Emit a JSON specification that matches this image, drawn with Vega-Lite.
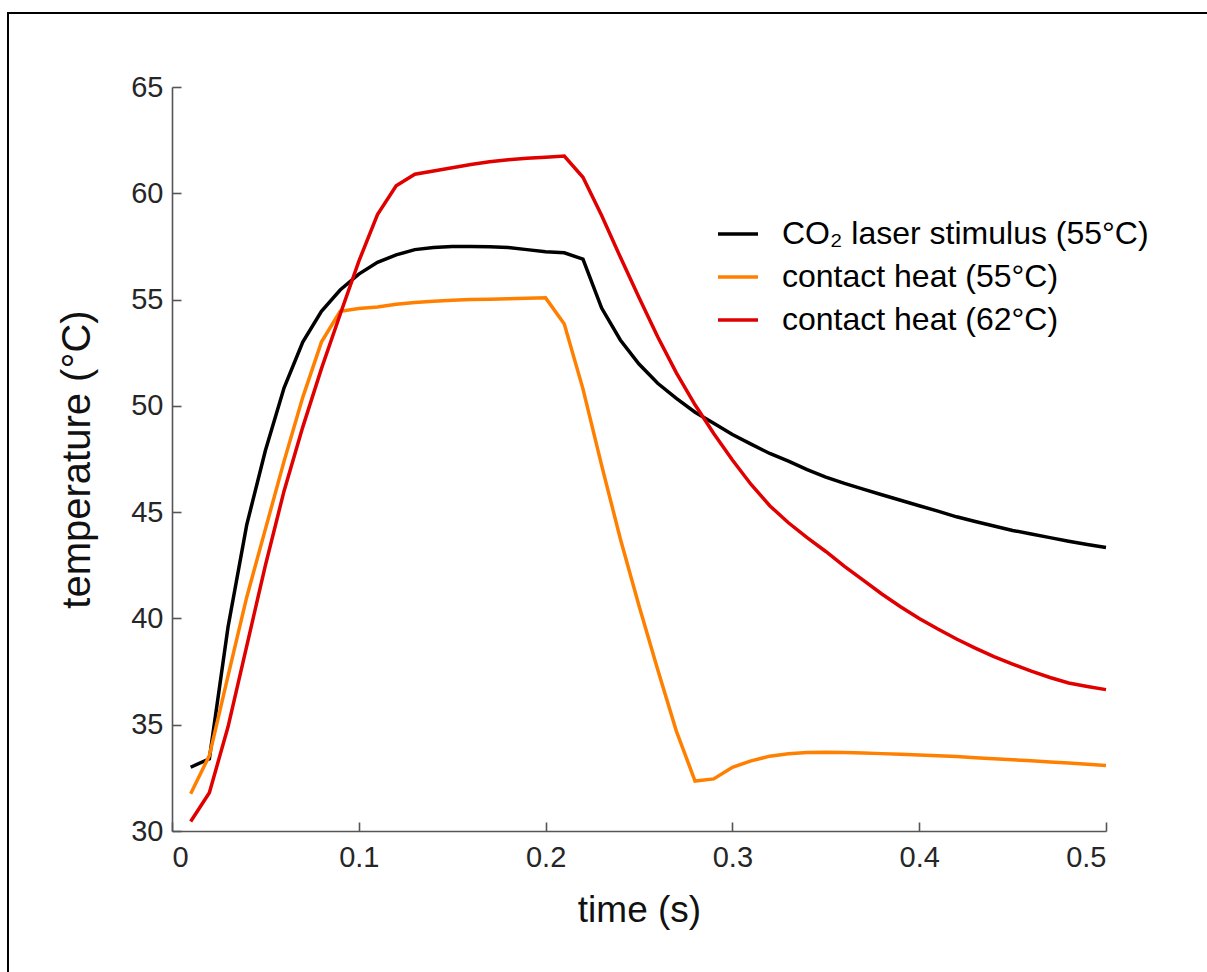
{
  "$schema": "https://vega.github.io/schema/vega-lite/v6.json",
  "width": 934,
  "height": 744,
  "autosize": {"type": "none"},
  "padding": {"left": 172, "top": 87, "right": 101, "bottom": 141},
  "background": "white",
  "config": {
    "view": {"stroke": null},
    "font": "Liberation Sans",
    "axis": {
      "grid": false,
      "domainColor": "#555555",
      "domainWidth": 1.6,
      "tickColor": "#555555",
      "tickWidth": 1.6,
      "tickSize": -9,
      "labelFontSize": 29,
      "labelColor": "#262626",
      "labelFont": "Liberation Sans",
      "titleFont": "Liberation Sans",
      "titleFontSize": 37,
      "titleFontWeight": "normal",
      "titleColor": "#111111"
    }
  },
  "datasets": {
    "series": [
      {"t": 0.01, "T": 33.0, "s": "CO₂ laser stimulus (55°C)"},
      {"t": 0.02, "T": 33.4, "s": "CO₂ laser stimulus (55°C)"},
      {"t": 0.03, "T": 39.6, "s": "CO₂ laser stimulus (55°C)"},
      {"t": 0.04, "T": 44.4, "s": "CO₂ laser stimulus (55°C)"},
      {"t": 0.05, "T": 47.9, "s": "CO₂ laser stimulus (55°C)"},
      {"t": 0.06, "T": 50.85, "s": "CO₂ laser stimulus (55°C)"},
      {"t": 0.07, "T": 53.0, "s": "CO₂ laser stimulus (55°C)"},
      {"t": 0.08, "T": 54.45, "s": "CO₂ laser stimulus (55°C)"},
      {"t": 0.09, "T": 55.45, "s": "CO₂ laser stimulus (55°C)"},
      {"t": 0.10, "T": 56.2, "s": "CO₂ laser stimulus (55°C)"},
      {"t": 0.11, "T": 56.75, "s": "CO₂ laser stimulus (55°C)"},
      {"t": 0.12, "T": 57.1, "s": "CO₂ laser stimulus (55°C)"},
      {"t": 0.13, "T": 57.35, "s": "CO₂ laser stimulus (55°C)"},
      {"t": 0.14, "T": 57.45, "s": "CO₂ laser stimulus (55°C)"},
      {"t": 0.15, "T": 57.5, "s": "CO₂ laser stimulus (55°C)"},
      {"t": 0.16, "T": 57.5, "s": "CO₂ laser stimulus (55°C)"},
      {"t": 0.17, "T": 57.48, "s": "CO₂ laser stimulus (55°C)"},
      {"t": 0.18, "T": 57.45, "s": "CO₂ laser stimulus (55°C)"},
      {"t": 0.19, "T": 57.35, "s": "CO₂ laser stimulus (55°C)"},
      {"t": 0.20, "T": 57.25, "s": "CO₂ laser stimulus (55°C)"},
      {"t": 0.21, "T": 57.2, "s": "CO₂ laser stimulus (55°C)"},
      {"t": 0.22, "T": 56.9, "s": "CO₂ laser stimulus (55°C)"},
      {"t": 0.23, "T": 54.6, "s": "CO₂ laser stimulus (55°C)"},
      {"t": 0.24, "T": 53.1, "s": "CO₂ laser stimulus (55°C)"},
      {"t": 0.25, "T": 51.97, "s": "CO₂ laser stimulus (55°C)"},
      {"t": 0.26, "T": 51.06, "s": "CO₂ laser stimulus (55°C)"},
      {"t": 0.27, "T": 50.35, "s": "CO₂ laser stimulus (55°C)"},
      {"t": 0.28, "T": 49.7, "s": "CO₂ laser stimulus (55°C)"},
      {"t": 0.29, "T": 49.18, "s": "CO₂ laser stimulus (55°C)"},
      {"t": 0.30, "T": 48.65, "s": "CO₂ laser stimulus (55°C)"},
      {"t": 0.31, "T": 48.2, "s": "CO₂ laser stimulus (55°C)"},
      {"t": 0.32, "T": 47.76, "s": "CO₂ laser stimulus (55°C)"},
      {"t": 0.33, "T": 47.4, "s": "CO₂ laser stimulus (55°C)"},
      {"t": 0.34, "T": 47.0, "s": "CO₂ laser stimulus (55°C)"},
      {"t": 0.35, "T": 46.65, "s": "CO₂ laser stimulus (55°C)"},
      {"t": 0.36, "T": 46.35, "s": "CO₂ laser stimulus (55°C)"},
      {"t": 0.37, "T": 46.08, "s": "CO₂ laser stimulus (55°C)"},
      {"t": 0.38, "T": 45.82, "s": "CO₂ laser stimulus (55°C)"},
      {"t": 0.39, "T": 45.56, "s": "CO₂ laser stimulus (55°C)"},
      {"t": 0.40, "T": 45.3, "s": "CO₂ laser stimulus (55°C)"},
      {"t": 0.41, "T": 45.05, "s": "CO₂ laser stimulus (55°C)"},
      {"t": 0.42, "T": 44.78, "s": "CO₂ laser stimulus (55°C)"},
      {"t": 0.43, "T": 44.56, "s": "CO₂ laser stimulus (55°C)"},
      {"t": 0.44, "T": 44.35, "s": "CO₂ laser stimulus (55°C)"},
      {"t": 0.45, "T": 44.14, "s": "CO₂ laser stimulus (55°C)"},
      {"t": 0.46, "T": 43.97, "s": "CO₂ laser stimulus (55°C)"},
      {"t": 0.47, "T": 43.8, "s": "CO₂ laser stimulus (55°C)"},
      {"t": 0.48, "T": 43.63, "s": "CO₂ laser stimulus (55°C)"},
      {"t": 0.49, "T": 43.48, "s": "CO₂ laser stimulus (55°C)"},
      {"t": 0.50, "T": 43.34, "s": "CO₂ laser stimulus (55°C)"},
      {"t": 0.01, "T": 31.75, "s": "contact heat (55°C)"},
      {"t": 0.02, "T": 33.55, "s": "contact heat (55°C)"},
      {"t": 0.03, "T": 37.3, "s": "contact heat (55°C)"},
      {"t": 0.04, "T": 41.0, "s": "contact heat (55°C)"},
      {"t": 0.05, "T": 44.2, "s": "contact heat (55°C)"},
      {"t": 0.06, "T": 47.4, "s": "contact heat (55°C)"},
      {"t": 0.07, "T": 50.4, "s": "contact heat (55°C)"},
      {"t": 0.08, "T": 53.0, "s": "contact heat (55°C)"},
      {"t": 0.09, "T": 54.45, "s": "contact heat (55°C)"},
      {"t": 0.10, "T": 54.58, "s": "contact heat (55°C)"},
      {"t": 0.11, "T": 54.65, "s": "contact heat (55°C)"},
      {"t": 0.12, "T": 54.78, "s": "contact heat (55°C)"},
      {"t": 0.13, "T": 54.86, "s": "contact heat (55°C)"},
      {"t": 0.14, "T": 54.92, "s": "contact heat (55°C)"},
      {"t": 0.15, "T": 54.97, "s": "contact heat (55°C)"},
      {"t": 0.16, "T": 55.0, "s": "contact heat (55°C)"},
      {"t": 0.17, "T": 55.02, "s": "contact heat (55°C)"},
      {"t": 0.18, "T": 55.04, "s": "contact heat (55°C)"},
      {"t": 0.19, "T": 55.06, "s": "contact heat (55°C)"},
      {"t": 0.20, "T": 55.08, "s": "contact heat (55°C)"},
      {"t": 0.21, "T": 53.85, "s": "contact heat (55°C)"},
      {"t": 0.22, "T": 50.8, "s": "contact heat (55°C)"},
      {"t": 0.23, "T": 47.2, "s": "contact heat (55°C)"},
      {"t": 0.24, "T": 43.75, "s": "contact heat (55°C)"},
      {"t": 0.25, "T": 40.6, "s": "contact heat (55°C)"},
      {"t": 0.26, "T": 37.6, "s": "contact heat (55°C)"},
      {"t": 0.27, "T": 34.7, "s": "contact heat (55°C)"},
      {"t": 0.28, "T": 32.35, "s": "contact heat (55°C)"},
      {"t": 0.29, "T": 32.45, "s": "contact heat (55°C)"},
      {"t": 0.30, "T": 33.0, "s": "contact heat (55°C)"},
      {"t": 0.31, "T": 33.3, "s": "contact heat (55°C)"},
      {"t": 0.32, "T": 33.52, "s": "contact heat (55°C)"},
      {"t": 0.33, "T": 33.63, "s": "contact heat (55°C)"},
      {"t": 0.34, "T": 33.69, "s": "contact heat (55°C)"},
      {"t": 0.35, "T": 33.7, "s": "contact heat (55°C)"},
      {"t": 0.36, "T": 33.69, "s": "contact heat (55°C)"},
      {"t": 0.37, "T": 33.67, "s": "contact heat (55°C)"},
      {"t": 0.38, "T": 33.64, "s": "contact heat (55°C)"},
      {"t": 0.39, "T": 33.61, "s": "contact heat (55°C)"},
      {"t": 0.40, "T": 33.58, "s": "contact heat (55°C)"},
      {"t": 0.41, "T": 33.54, "s": "contact heat (55°C)"},
      {"t": 0.42, "T": 33.5, "s": "contact heat (55°C)"},
      {"t": 0.43, "T": 33.45, "s": "contact heat (55°C)"},
      {"t": 0.44, "T": 33.4, "s": "contact heat (55°C)"},
      {"t": 0.45, "T": 33.35, "s": "contact heat (55°C)"},
      {"t": 0.46, "T": 33.3, "s": "contact heat (55°C)"},
      {"t": 0.47, "T": 33.25, "s": "contact heat (55°C)"},
      {"t": 0.48, "T": 33.2, "s": "contact heat (55°C)"},
      {"t": 0.49, "T": 33.14, "s": "contact heat (55°C)"},
      {"t": 0.50, "T": 33.08, "s": "contact heat (55°C)"},
      {"t": 0.01, "T": 30.45, "s": "contact heat (62°C)"},
      {"t": 0.02, "T": 31.8, "s": "contact heat (62°C)"},
      {"t": 0.03, "T": 34.9, "s": "contact heat (62°C)"},
      {"t": 0.04, "T": 38.7, "s": "contact heat (62°C)"},
      {"t": 0.05, "T": 42.5, "s": "contact heat (62°C)"},
      {"t": 0.06, "T": 46.0, "s": "contact heat (62°C)"},
      {"t": 0.07, "T": 49.0, "s": "contact heat (62°C)"},
      {"t": 0.08, "T": 51.75, "s": "contact heat (62°C)"},
      {"t": 0.09, "T": 54.3, "s": "contact heat (62°C)"},
      {"t": 0.10, "T": 56.8, "s": "contact heat (62°C)"},
      {"t": 0.11, "T": 59.0, "s": "contact heat (62°C)"},
      {"t": 0.12, "T": 60.35, "s": "contact heat (62°C)"},
      {"t": 0.13, "T": 60.9, "s": "contact heat (62°C)"},
      {"t": 0.14, "T": 61.05, "s": "contact heat (62°C)"},
      {"t": 0.15, "T": 61.2, "s": "contact heat (62°C)"},
      {"t": 0.16, "T": 61.35, "s": "contact heat (62°C)"},
      {"t": 0.17, "T": 61.48, "s": "contact heat (62°C)"},
      {"t": 0.18, "T": 61.58, "s": "contact heat (62°C)"},
      {"t": 0.19, "T": 61.65, "s": "contact heat (62°C)"},
      {"t": 0.20, "T": 61.7, "s": "contact heat (62°C)"},
      {"t": 0.21, "T": 61.75, "s": "contact heat (62°C)"},
      {"t": 0.22, "T": 60.75, "s": "contact heat (62°C)"},
      {"t": 0.23, "T": 58.95, "s": "contact heat (62°C)"},
      {"t": 0.24, "T": 57.0, "s": "contact heat (62°C)"},
      {"t": 0.25, "T": 55.1, "s": "contact heat (62°C)"},
      {"t": 0.26, "T": 53.25, "s": "contact heat (62°C)"},
      {"t": 0.27, "T": 51.55, "s": "contact heat (62°C)"},
      {"t": 0.28, "T": 50.05, "s": "contact heat (62°C)"},
      {"t": 0.29, "T": 48.7, "s": "contact heat (62°C)"},
      {"t": 0.30, "T": 47.45, "s": "contact heat (62°C)"},
      {"t": 0.31, "T": 46.3, "s": "contact heat (62°C)"},
      {"t": 0.32, "T": 45.3, "s": "contact heat (62°C)"},
      {"t": 0.33, "T": 44.5, "s": "contact heat (62°C)"},
      {"t": 0.34, "T": 43.8, "s": "contact heat (62°C)"},
      {"t": 0.35, "T": 43.15, "s": "contact heat (62°C)"},
      {"t": 0.36, "T": 42.45, "s": "contact heat (62°C)"},
      {"t": 0.37, "T": 41.8, "s": "contact heat (62°C)"},
      {"t": 0.38, "T": 41.15, "s": "contact heat (62°C)"},
      {"t": 0.39, "T": 40.55, "s": "contact heat (62°C)"},
      {"t": 0.40, "T": 40.0, "s": "contact heat (62°C)"},
      {"t": 0.41, "T": 39.5, "s": "contact heat (62°C)"},
      {"t": 0.42, "T": 39.03, "s": "contact heat (62°C)"},
      {"t": 0.43, "T": 38.6, "s": "contact heat (62°C)"},
      {"t": 0.44, "T": 38.2, "s": "contact heat (62°C)"},
      {"t": 0.45, "T": 37.85, "s": "contact heat (62°C)"},
      {"t": 0.46, "T": 37.52, "s": "contact heat (62°C)"},
      {"t": 0.47, "T": 37.22, "s": "contact heat (62°C)"},
      {"t": 0.48, "T": 36.96, "s": "contact heat (62°C)"},
      {"t": 0.49, "T": 36.8, "s": "contact heat (62°C)"},
      {"t": 0.50, "T": 36.65, "s": "contact heat (62°C)"}
    ]
  },
  "layer": [
    {
      "data": {"values": [{"frame": 1}]},
      "mark": {"type": "rect", "fill": null, "stroke": "#000000", "strokeWidth": 2, "clip": false},
      "encoding": {
        "x": {"datum": -0.0878, "type": "quantitative", "scale": {"domain": [0, 0.5]}},
        "x2": {"datum": 0.8},
        "y": {"datum": 68.48, "type": "quantitative", "scale": {"domain": [30, 65]}},
        "y2": {"datum": 10}
      }
    },
    {
      "data": {"name": "series"},
      "mark": {"type": "line", "strokeWidth": 3.5, "clip": false},
      "encoding": {
        "x": {
          "field": "t", "type": "quantitative",
          "scale": {"domain": [0, 0.5], "nice": false, "zero": false},
          "axis": {"title": "time (s)", "values": [0, 0.1, 0.2, 0.3, 0.4, 0.5], "format": "~g", "labelPadding": 21, "titlePadding": 20}
        },
        "y": {
          "field": "T", "type": "quantitative",
          "scale": {"domain": [30, 65], "nice": false, "zero": false},
          "axis": {"title": "temperature (°C)", "values": [30, 35, 40, 45, 50, 55, 60, 65], "labelPadding": 18, "titlePadding": 33, "titleFontSize": 40}
        },
        "color": {
          "field": "s", "type": "nominal",
          "sort": ["CO₂ laser stimulus (55°C)", "contact heat (55°C)", "contact heat (62°C)"],
          "scale": {"domain": ["CO₂ laser stimulus (55°C)", "contact heat (55°C)", "contact heat (62°C)"], "range": ["#000000", "#ff8000", "#e00000"]},
          "legend": {
            "title": null,
            "orient": "none",
            "legendX": 544,
            "legendY": 125,
            "symbolType": "stroke",
            "symbolSize": 1600,
            "symbolStrokeWidth": 3.5,
            "labelFontSize": 32,
            "labelColor": "#000000",
            "labelFont": "Liberation Sans",
            "labelOffset": 22,
            "labelLimit": 500,
            "rowPadding": 5
          }
        }
      }
    }
  ]
}
